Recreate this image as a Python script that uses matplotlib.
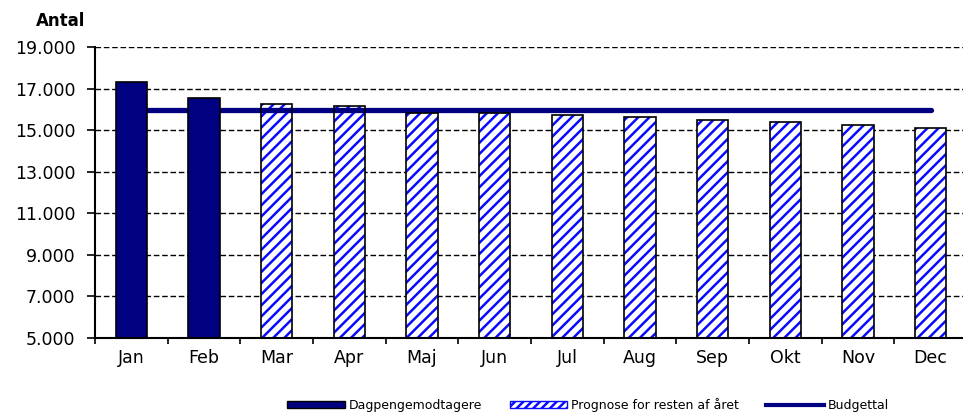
import matplotlib.pyplot as plt
from matplotlib.patches import Patch
from matplotlib.lines import Line2D
from matplotlib.ticker import FuncFormatter

# data
months = ["Jan", "Feb", "Mar", "Apr", "Maj", "Jun", "Jul", "Aug", "Sep", "Okt", "Nov", "Dec"]
actual = [17330, 16560]                       # Dagpengemodtagere (Jan-Feb)
forecast = [16270, 16160, 15840, 15830, 15710, 15640, 15500, 15370, 15260, 15090]  # Mar-Dec
budget = [15950] * 12

navy = "#000080"
stripe = "#0a0aff"

plt.rcParams["font.family"] = ["DejaVu Sans"]
plt.rcParams["hatch.linewidth"] = 1.8

fig = plt.figure(figsize=(9.63, 4.17), dpi=100)
ax = fig.add_axes([95 / 963, 1 - 338 / 417, 872 / 963, 291 / 417])

x_act = list(range(len(actual)))
x_fc = list(range(len(actual), len(months)))
bw = 0.43

ax.bar(x_act, actual, width=bw, color=navy, edgecolor="black", linewidth=1.2, zorder=4)
# hatched forecast bars: stripes first, black outline on top
ax.bar(x_fc, forecast, width=bw, color="white", edgecolor=stripe, hatch="///", linewidth=0, zorder=2)
ax.bar(x_fc, forecast, width=bw, fill=False, edgecolor="black", linewidth=1.2, zorder=3.5)

ax.plot(range(len(months)), budget, color=navy, linewidth=3.8, solid_capstyle="round", zorder=3)

ax.set_ylim(5000, 19000)
ax.set_xlim(-0.5, len(months) - 0.5)
ax.set_yticks(range(5000, 19001, 2000))
ax.yaxis.set_major_formatter(FuncFormatter(lambda v, p: f"{int(v):,}".replace(",", ".")))
ax.set_xticks(range(len(months)))
ax.set_xticklabels(months)
ax.set_xticks([i - 0.5 for i in range(len(months) + 1)], minor=True)
ax.tick_params(axis="x", which="major", length=0, pad=8, labelsize=12.5)
ax.tick_params(axis="x", which="minor", length=4, width=1.2, direction="out")
ax.tick_params(axis="y", length=6, width=1.2, pad=8, labelsize=12.5)

ax.grid(axis="y", color="black", linestyle=(0, (4, 2)), linewidth=1.0, zorder=1)
ax.set_axisbelow(True)
for s in ["top", "right"]:
    ax.spines[s].set_visible(False)
for s in ["left", "bottom"]:
    ax.spines[s].set_linewidth(1.5)
    ax.spines[s].set_zorder(5)

fig.text(36 / 963, 1 - 21 / 417, "Antal", fontsize=12, fontweight="bold", va="center", ha="left")

handles = [
    Patch(facecolor=navy, edgecolor="black", linewidth=1),
    Patch(facecolor="white", edgecolor=stripe, hatch="////", linewidth=1),
    Line2D([0], [0], color=navy, linewidth=3),
]
labels = ["Dagpengemodtagere", "Prognose for resten af året", "Budgettal"]
fig.legend(handles, labels, loc="center", bbox_to_anchor=(588 / 963, 1 - 405 / 417), ncol=3,
           frameon=False, fontsize=9, handlelength=4.6, handleheight=0.45, columnspacing=2.2,
           handletextpad=0.3)

fig.savefig("out.png", dpi=100)
